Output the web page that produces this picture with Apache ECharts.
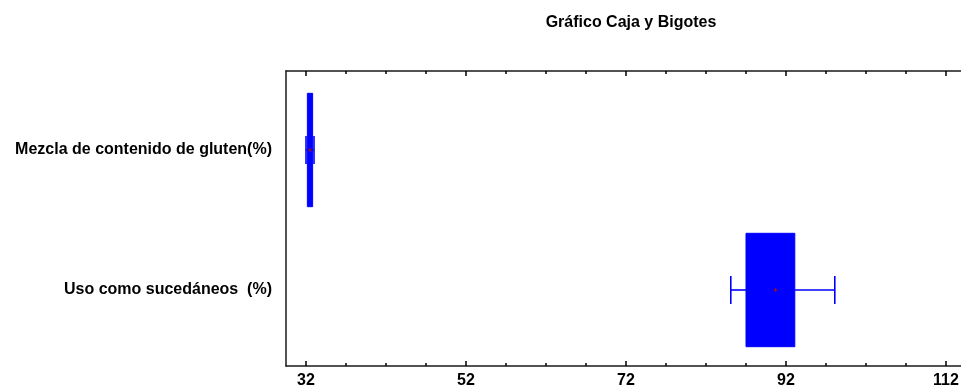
<!DOCTYPE html>
<html>
<head>
<meta charset="utf-8">
<script src="https://cdn.jsdelivr.net/npm/echarts@6/dist/echarts.min.js"></script>
<style>
  html, body { margin: 0; padding: 0; background: #ffffff; }
  #chart { width: 961px; height: 389px; }
</style>
</head>
<body>
<div id="chart"></div>
<script>
// Box-and-whisker summary for each variable
const titleText = 'Gráfico Caja y Bigotes';
const categories = ['Mezcla de contenido de gluten(%)', 'Uso como sucedáneos  (%)'];
const minVals = [32.0, 85.1];
const q1Vals = [32.17, 87.0];
const medianVals = [32.5, 90.0];
const q3Vals = [32.83, 93.1];
const maxVals = [33.0, 98.1];
const meanVals = [32.5, 90.7];

// Value scale ticks
const majorTicks = [32, 52, 72, 92, 112];
const minorTicks = [37, 42, 47, 57, 62, 67, 77, 82, 87, 97, 102, 107];
const axisMin = 29.5;
const axisMax = 114.5;

const FONT = '"Liberation Sans", Arial, sans-serif';
const BLUE = '#0000ff';

const boxData = categories.map((c, i) =>
  [i, minVals[i], q1Vals[i], medianVals[i], q3Vals[i], maxVals[i], meanVals[i]]);

function renderBox(params, api) {
  const cat = api.value(0);
  const band = api.size([0, 1])[1];
  const boxH = band * 0.81;
  const capH = band * 0.2;
  const pMin = api.coord([api.value(1), cat]);
  const pQ1 = api.coord([api.value(2), cat]);
  const pMed = api.coord([api.value(3), cat]);
  const pQ3 = api.coord([api.value(4), cat]);
  const pMax = api.coord([api.value(5), cat]);
  const pMean = api.coord([api.value(6), cat]);
  const cy = pQ1[1];
  const lineStyle = { stroke: BLUE, lineWidth: 1.6 };
  const meanColor = '#a01010';
  return {
    type: 'group',
    children: [
      { type: 'line', shape: { x1: pMin[0], y1: cy, x2: pQ1[0], y2: cy }, style: lineStyle },
      { type: 'line', shape: { x1: pQ3[0], y1: cy, x2: pMax[0], y2: cy }, style: lineStyle },
      { type: 'line', shape: { x1: pMin[0], y1: cy - capH / 2, x2: pMin[0], y2: cy + capH / 2 }, style: lineStyle },
      { type: 'line', shape: { x1: pMax[0], y1: cy - capH / 2, x2: pMax[0], y2: cy + capH / 2 }, style: lineStyle },
      { type: 'rect', shape: { x: pQ1[0], y: cy - boxH / 2, width: pQ3[0] - pQ1[0], height: boxH },
        style: { fill: BLUE, stroke: BLUE, lineWidth: 1 } },
      { type: 'line', shape: { x1: pMed[0], y1: cy - boxH / 2, x2: pMed[0], y2: cy + boxH / 2 }, style: { stroke: BLUE, lineWidth: 1 } },
      { type: 'line', shape: { x1: pMean[0] - 2, y1: cy, x2: pMean[0] + 2, y2: cy }, style: { stroke: meanColor, lineWidth: 1 } },
      { type: 'line', shape: { x1: pMean[0], y1: cy - 2, x2: pMean[0], y2: cy + 2 }, style: { stroke: meanColor, lineWidth: 1 } }
    ]
  };
}

const chart = echarts.init(document.getElementById('chart'), null, { renderer: 'canvas' });

const frameLine = { show: true, lineStyle: { color: '#1a1a1a', width: 1.5 } };
function valueAxis(gridIndex, position, opts) {
  return Object.assign({
    type: 'value', gridIndex, position, min: axisMin, max: axisMax,
    splitLine: { show: false }, axisLine: { show: false },
    axisTick: { show: false }, axisLabel: { show: false }
  }, opts);
}

chart.setOption({
  animation: false,
  backgroundColor: '#ffffff',
  title: {
    text: titleText, left: 626, top: 10, textAlign: 'center',
    textStyle: { fontFamily: FONT, fontSize: 16, fontWeight: 'bold', color: '#000' }
  },
  grid: [
    { left: 286, top: 71, width: 680, height: 295, outerBoundsMode: 'none', containLabel: false },
    { left: 286, top: 80, width: 680, height: 280, outerBoundsMode: 'none', containLabel: false }
  ],
  xAxis: [
    valueAxis(0, 'bottom', {
      axisLine: frameLine,
      axisTick: { show: true, inside: true, length: 5, customValues: majorTicks, lineStyle: { color: '#000', width: 1.5 } },
      axisLabel: { show: true, customValues: majorTicks, margin: 7, fontFamily: FONT, fontSize: 16, fontWeight: 'bold', color: '#000' }
    }),
    valueAxis(0, 'bottom', {
      axisTick: { show: true, inside: true, length: 3, customValues: minorTicks, lineStyle: { color: '#000', width: 1.5 } }
    }),
    valueAxis(0, 'top', {
      axisLine: frameLine,
      axisTick: { show: true, inside: true, length: 5, customValues: majorTicks, lineStyle: { color: '#000', width: 1.5 } }
    }),
    valueAxis(0, 'top', {
      axisTick: { show: true, inside: true, length: 3, customValues: minorTicks, lineStyle: { color: '#000', width: 1.5 } }
    }),
    valueAxis(1, 'bottom', {})
  ],
  yAxis: [
    { type: 'value', gridIndex: 0, min: 0, max: 1, splitLine: { show: false },
      axisLine: frameLine, axisTick: { show: false }, axisLabel: { show: false } },
    { type: 'category', gridIndex: 1, data: categories, inverse: true,
      axisLine: { show: false }, axisTick: { show: false }, splitLine: { show: false },
      axisLabel: { margin: 14, fontFamily: FONT, fontSize: 16, fontWeight: 'bold', color: '#000' } }
  ],
  series: [{
    type: 'custom',
    xAxisIndex: 4,
    yAxisIndex: 1,
    renderItem: renderBox,
    encode: { x: [1, 2, 3, 4, 5, 6], y: 0 },
    data: boxData
  }]
});
</script>
</body>
</html>
